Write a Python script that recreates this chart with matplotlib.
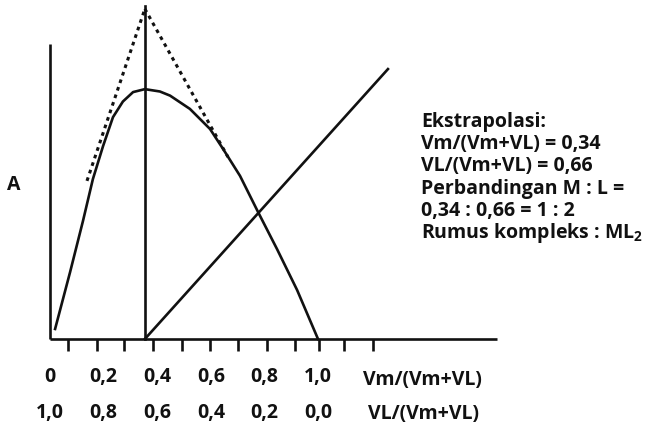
import numpy as np
import matplotlib.pyplot as plt

plt.rcParams["font.family"] = ["Open Sans", "DejaVu Sans"]
plt.rcParams["mathtext.fontset"] = "custom"
plt.rcParams["mathtext.rm"] = "Open Sans:bold"
plt.rcParams["mathtext.default"] = "regular"

# Job's method curve (absorbance A vs mole fraction of metal)
frac_m = [0.019, 0.075, 0.123, 0.160, 0.198, 0.235, 0.272, 0.310, 0.354,
          0.410, 0.448, 0.522, 0.597, 0.646, 0.709, 0.776, 0.847, 0.922, 1.0]
absorb = [0.034, 0.227, 0.400, 0.542, 0.654, 0.752, 0.805, 0.837, 0.847,
          0.839, 0.825, 0.780, 0.712, 0.644, 0.553, 0.431, 0.305, 0.166, 0.0]

# extrapolated tangents meeting above the maximum
tan_left_x = [0.138, 0.354]
tan_left_y = [0.536, 1.119]
tan_right_x = [0.354, 0.664]
tan_right_y = [1.119, 0.617]

# straight rising line starting at the maximum position
line_x = [0.354, 1.261]
line_y = [0.0, 0.915]

x_max = 0.354
vert_top = 1.13
axis_end = 1.668

tick_pos = [0.067, 0.175, 0.276, 0.384, 0.493, 0.597, 0.701, 0.810, 0.914,
            1.004, 1.097, 1.205]
label_vals = [0.0, 0.2, 0.4, 0.6, 0.8, 1.0]
labels_m = ["0", "0,2", "0,4", "0,6", "0,8", "1,0"]
labels_l = ["1,0", "0,8", "0,6", "0,4", "0,2", "0,0"]

notes = [
    "Ekstrapolasi:",
    "Vm/(Vm+VL) = 0,34",
    "VL/(Vm+VL) = 0,66",
    "Perbandingan M : L =",
    "0,34 : 0,66 = 1 : 2",
    "Rumus kompleks : ML$_2$",
]

fig = plt.figure(figsize=(6.45, 4.31), dpi=100)
ax = fig.add_axes([0, 0, 1, 1])
ax.set_xlim(-50 / 268, 595 / 268)
ax.set_ylim(-91 / 295, 340 / 295)
ax.axis("off")

lw = 1.9
k = "#111111"

# axes
ax.plot([0, 0], [0, 1.0], color=k, lw=lw, solid_capstyle="butt")
ax.plot([0, axis_end], [0, 0], color=k, lw=lw, solid_capstyle="butt")
for t in tick_pos:
    ax.plot([t, t], [0, -0.04], color=k, lw=lw, solid_capstyle="butt")

ax.plot(frac_m, absorb, color=k, lw=lw, solid_joinstyle="round")
ax.plot(tan_left_x, tan_left_y, color=k, lw=2.2, ls=(0, (1.2, 1.4)))
ax.plot(tan_right_x, tan_right_y, color=k, lw=2.2, ls=(0, (1.2, 1.4)))
ax.plot([x_max, x_max], [0, vert_top], color=k, lw=lw)
ax.plot(line_x, line_y, color=k, lw=lw)

tstyle = dict(fontsize=14, fontweight="bold", color=k)
for v, s in zip(label_vals, labels_m):
    ax.text(v, -0.125, s, ha="center", va="center", **tstyle)
for v, s in zip(label_vals, labels_l):
    ax.text(v, -0.247, s, ha="center", va="center", **tstyle)
ax.text(1.168, -0.135, "Vm/(Vm+VL)", ha="left", va="center", **tstyle)
ax.text(1.187, -0.25, "VL/(Vm+VL)", ha="left", va="center", **tstyle)
ax.text(-0.134, 0.525, "A", ha="center", va="center", **tstyle)

for i, s in enumerate(notes):
    ax.text(1.385, 0.739 - i * 0.0753, s, ha="left", va="center", **tstyle)

fig.savefig("out.png", dpi=100)
